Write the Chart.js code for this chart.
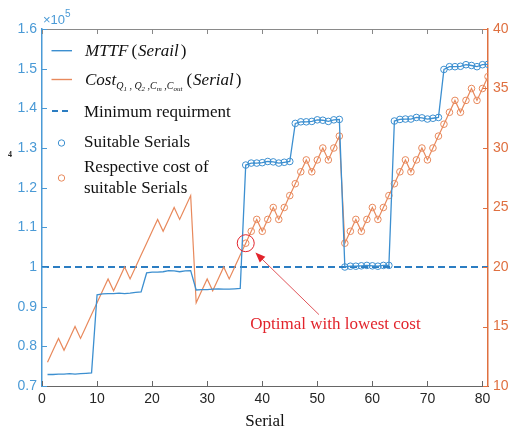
<!DOCTYPE html>
<html>
<head>
<meta charset="utf-8">
<script src="https://cdn.jsdelivr.net/npm/chart.js@4.4.1/dist/chart.umd.min.js"></script>
<style>
  html, body { margin: 0; padding: 0; background: #fff; }
  #wrap { width: 516px; height: 427px; }
</style>
</head>
<body>
<div id="wrap"><canvas id="chart" width="516" height="427"></canvas></div>
<script>
// serial numbers (x)
const serials = [
   1,  2,  3,  4,  5,  6,  7,  8,  9,
  10, 11, 12, 13, 14, 15, 16, 17, 18,
  19, 20, 21, 22, 23, 24, 25, 26, 27,
  28, 29, 30, 31, 32, 33, 34, 35, 36,
  37, 38, 39, 40, 41, 42, 43, 44, 45,
  46, 47, 48, 49, 50, 51, 52, 53, 54,
  55, 56, 57, 58, 59, 60, 61, 62, 63,
  64, 65, 66, 67, 68, 69, 70, 71, 72,
  73, 74, 75, 76, 77, 78, 79, 80, 81
];

// MTTF, in units of 1e5
const mttf = [
  0.729, 0.729, 0.730, 0.730, 0.731, 0.730, 0.731, 0.732, 0.733,
  0.930, 0.932, 0.933, 0.933, 0.934, 0.933, 0.934, 0.936, 0.937,
  0.985, 0.987, 0.987, 0.988, 0.991, 0.990, 0.988, 0.990, 0.991,
  0.942, 0.943, 0.943, 0.944, 0.945, 0.944, 0.944, 0.945, 0.946,
  1.257, 1.262, 1.262, 1.263, 1.266, 1.265, 1.262, 1.264, 1.266,
  1.362, 1.366, 1.366, 1.367, 1.371, 1.370, 1.367, 1.371, 1.372,
  1.000, 1.002, 1.002, 1.003, 1.004, 1.003, 1.002, 1.004, 1.004,
  1.368, 1.372, 1.373, 1.373, 1.377, 1.376, 1.373, 1.375, 1.377,
  1.498, 1.505, 1.505, 1.506, 1.510, 1.508, 1.505, 1.510, 1.511
];

// cost (right axis)
const cost = [
  12, 13, 14, 13, 14, 15, 14, 15, 16,
  17, 18, 19, 18, 19, 20, 19, 20, 21,
  22, 23, 24, 23, 24, 25, 24, 25, 26,
  17, 18, 19, 18, 19, 20, 19, 20, 21,
  22, 23, 24, 23, 24, 25, 24, 25, 26,
  27, 28, 29, 28, 29, 30, 29, 30, 31,
  22, 23, 24, 23, 24, 25, 24, 25, 26,
  27, 28, 29, 28, 29, 30, 29, 30, 31,
  32, 33, 34, 33, 34, 35, 34, 35, 36
];

const suitableSerials = [
  37, 38, 39, 40, 41, 42, 43, 44, 45,
  46, 47, 48, 49, 50, 51, 52, 53, 54,
  55, 56, 57, 58, 59, 60, 61, 62, 63,
  64, 65, 66, 67, 68, 69, 70, 71, 72,
  73, 74, 75, 76, 77, 78, 79, 80, 81
];
const minRequirement = 1.0;
const optimalSerial = 37;

const xMin = 0, xMax = 81;
const xTicks = [0, 10, 20, 30, 40, 50, 60, 70, 80];
const mttfTicks = [0.7, 0.8, 0.9, 1.0, 1.1, 1.2, 1.3, 1.4, 1.5, 1.6];
const costTicks = [10, 15, 20, 25, 30, 35, 40];

const BLUE = '#3c8fd0';
const BLUE_AXIS = '#4a9ad6';
const DASH_BLUE = '#2b7dc2';
const ORANGE = '#e8895c';
const ORANGE_AXIS = '#df7040';
const RED = '#e2242c';
const SANS = "'Liberation Sans', Arial, sans-serif";
const SERIF = "'Liberation Serif', 'Times New Roman', serif";

const idx = s => serials.indexOf(s);
const mttfPoints = serials.map((s, i) => ({ x: s, y: mttf[i] }));
const costPoints = serials.map((s, i) => ({ x: s, y: cost[i] }));
const suitableMttf = suitableSerials.map(s => ({ x: s, y: mttf[idx(s)] }));
const suitableCost = suitableSerials.map(s => ({ x: s, y: cost[idx(s)] }));

function drawRich(ctx, x, y, parts) {
    parts.forEach(p => {
        ctx.font = p.font;
        ctx.fillText(p.t, x, y + (p.dy || 0));
        x += ctx.measureText(p.t).width + (p.gap || 0);
    });
}

// frame, inward ticks, legend and annotation
const decorations = {
    id: 'decorations',
    afterDatasetsDraw(chart) {
        const { ctx, chartArea: a, scales: { x, y, y2 } } = chart;
        ctx.save();
        const seg = (x1, y1, x2, y2_, color, w) => {
            ctx.strokeStyle = color; ctx.lineWidth = w || 1;
            ctx.beginPath(); ctx.moveTo(x1, y1); ctx.lineTo(x2, y2_); ctx.stroke();
        };
        // top frame line
        seg(a.left, a.top + 0.5, a.right, a.top + 0.5, '#8a8a8a', 1);
        xTicks.forEach(v => {
            const px = Math.round(x.getPixelForValue(v)) + 0.5;
            seg(px, a.bottom, px, a.bottom - 5, '#666');
            seg(px, a.top, px, a.top + 5, '#888');
        });
        mttfTicks.forEach(v => {
            const py = Math.round(y.getPixelForValue(v)) + 0.5;
            seg(a.left, py, a.left + 5, py, BLUE_AXIS);
        });
        costTicks.forEach(v => {
            const py = Math.round(y2.getPixelForValue(v)) + 0.5;
            seg(a.right, py, a.right - 5, py, ORANGE_AXIS);
        });

        // exponent label
        ctx.fillStyle = BLUE_AXIS;
        ctx.textBaseline = 'alphabetic';
        ctx.textAlign = 'left';
        drawRich(ctx, 43, 24, [
            { t: '\u00d710', font: '13px ' + SANS },
            { t: '5', font: '10px ' + SANS, dy: -7 }
        ]);
        ctx.fillStyle = '#222';
        ctx.font = 'bold 8px ' + SERIF;
        ctx.fillText('4', 8, 157);

        // legend
        const up = '17px ' + SERIF;
        const iti = 'italic 17px ' + SERIF;
        const sub = 'italic 10px ' + SERIF, sub2 = 'italic 7px ' + SERIF;
        seg(51.5, 50.7, 72, 50.7, BLUE, 1.4);
        seg(51.5, 79.5, 72, 79.5, ORANGE, 1.4);
        ctx.setLineDash([6, 4]);
        seg(52, 111, 72, 111, DASH_BLUE, 1.8);
        ctx.setLineDash([]);
        ctx.strokeStyle = BLUE; ctx.lineWidth = 1;
        ctx.beginPath(); ctx.arc(61.5, 143, 3.2, 0, Math.PI * 2); ctx.stroke();
        ctx.strokeStyle = ORANGE;
        ctx.beginPath(); ctx.arc(61.5, 178, 3.2, 0, Math.PI * 2); ctx.stroke();

        ctx.fillStyle = '#111';
        drawRich(ctx, 85, 56, [
            { t: 'MTTF', font: iti, gap: 3 }, { t: '(', font: up, gap: 1 },
            { t: 'Serail', font: iti, gap: 2 }, { t: ')', font: up }
        ]);
        drawRich(ctx, 85, 85, [
            { t: 'Cost', font: iti },
            { t: 'Q', font: sub, dy: 4 }, { t: '1', font: sub2, dy: 6 }, { t: ' , ', font: sub, dy: 4 },
            { t: 'Q', font: sub, dy: 4 }, { t: '2', font: sub2, dy: 6 }, { t: ' ,', font: sub, dy: 4 },
            { t: 'C', font: sub, dy: 4 }, { t: 'm', font: sub2, dy: 6 }, { t: ' ,', font: sub, dy: 4 },
            { t: 'C', font: sub, dy: 4 }, { t: 'out', font: sub2, dy: 6, gap: 4 },
            { t: '(', font: up, gap: 1 }, { t: 'Serial', font: iti, gap: 2 }, { t: ')', font: up }
        ]);
        ctx.font = up;
        ctx.fillText('Minimum requirment', 84, 116.5);
        ctx.fillText('Suitable Serials', 84, 146.5);
        ctx.fillText('Respective cost of', 84, 171.5);
        ctx.fillText('suitable Serials', 84, 192.5);

        // optimal point annotation
        const cx = x.getPixelForValue(optimalSerial);
        const cy = y2.getPixelForValue(cost[idx(optimalSerial)]);
        ctx.strokeStyle = RED; ctx.lineWidth = 1;
        ctx.beginPath(); ctx.arc(cx, cy, 8.5, 0, Math.PI * 2); ctx.stroke();
        const tx = x.getPixelForValue(50.3), ty = y2.getPixelForValue(16.0);
        const dx = tx - cx, dy = ty - cy, len = Math.hypot(dx, dy);
        const ux = dx / len, uy = dy / len;
        const hx = cx + ux * 13.5, hy = cy + uy * 13.5;
        seg(tx, ty, hx + ux * 8, hy + uy * 8, '#e0555a', 1);
        ctx.fillStyle = RED;
        ctx.beginPath();
        ctx.moveTo(hx, hy);
        ctx.lineTo(hx + ux * 10 - uy * 4, hy + uy * 10 + ux * 4);
        ctx.lineTo(hx + ux * 10 + uy * 4, hy + uy * 10 - ux * 4);
        ctx.closePath(); ctx.fill();
        ctx.font = up;
        ctx.textAlign = 'center';
        ctx.fillText('Optimal with lowest cost', x.getPixelForValue(53.3), y2.getPixelForValue(15.27) + 6);
        ctx.restore();
    }
};

new Chart(document.getElementById('chart'), {
    type: 'line',
    data: {
        datasets: [
            { label: 'MTTF (Serail)', data: mttfPoints, yAxisID: 'y', borderColor: BLUE, borderWidth: 1.3, pointRadius: 0, tension: 0 },
            { label: 'Cost (Serial)', data: costPoints, yAxisID: 'y2', borderColor: ORANGE, borderWidth: 1.2, pointRadius: 0, tension: 0 },
            { label: 'Minimum requirment', data: [{ x: xMin, y: minRequirement }, { x: xMax, y: minRequirement }], yAxisID: 'y',
              borderColor: DASH_BLUE, borderDash: [7, 4], borderWidth: 1.8, pointRadius: 0 },
            { label: 'Suitable Serials', data: suitableMttf, yAxisID: 'y', showLine: false, pointRadius: 3.3, pointBorderWidth: 1,
              pointBorderColor: BLUE, pointBackgroundColor: 'rgba(0,0,0,0)' },
            { label: 'Respective cost of suitable Serials', data: suitableCost, yAxisID: 'y2', showLine: false, pointRadius: 3.3,
              pointBorderWidth: 1, pointBorderColor: ORANGE, pointBackgroundColor: 'rgba(0,0,0,0)' }
        ]
    },
    options: {
        responsive: false,
        animation: false,
        layout: { padding: { top: 29, left: 0, right: 0, bottom: 0 }, autoPadding: false },
        plugins: { legend: { display: false }, tooltip: { enabled: false } },
        scales: {
            x: {
                type: 'linear', min: xMin, max: xMax,
                afterBuildTicks: s => { s.ticks = xTicks.map(v => ({ value: v })); },
                afterFit: s => { s.height = 41; },
                grid: { display: false, drawTicks: false },
                border: { color: '#666', width: 1 },
                ticks: { color: '#262626', font: { family: SANS, size: 14 }, padding: 5, maxRotation: 0, autoSkip: false },
                title: { display: true, text: 'Serial', color: '#111', font: { family: SERIF, size: 17, lineHeight: 1 }, padding: { top: 0, bottom: -3 } }
            },
            y: {
                position: 'left', min: 0.7, max: 1.6,
                afterBuildTicks: s => { s.ticks = mttfTicks.map(v => ({ value: v })); },
                afterFit: s => { s.width = 42; },
                grid: { display: false, drawTicks: false },
                border: { color: BLUE_AXIS, width: 1.5 },
                ticks: { color: BLUE_AXIS, font: { family: SANS, size: 14 }, padding: 5, callback: v => v === 1 ? '1' : v.toFixed(1) }
            },
            y2: {
                position: 'right', min: 10, max: 40,
                afterBuildTicks: s => { s.ticks = costTicks.map(v => ({ value: v })); },
                afterFit: s => { s.width = 28; },
                grid: { display: false, drawTicks: false },
                border: { color: ORANGE_AXIS, width: 1.5 },
                ticks: { color: ORANGE_AXIS, font: { family: SANS, size: 14 }, padding: 5 }
            }
        }
    },
    plugins: [decorations]
});
</script>
</body>
</html>
